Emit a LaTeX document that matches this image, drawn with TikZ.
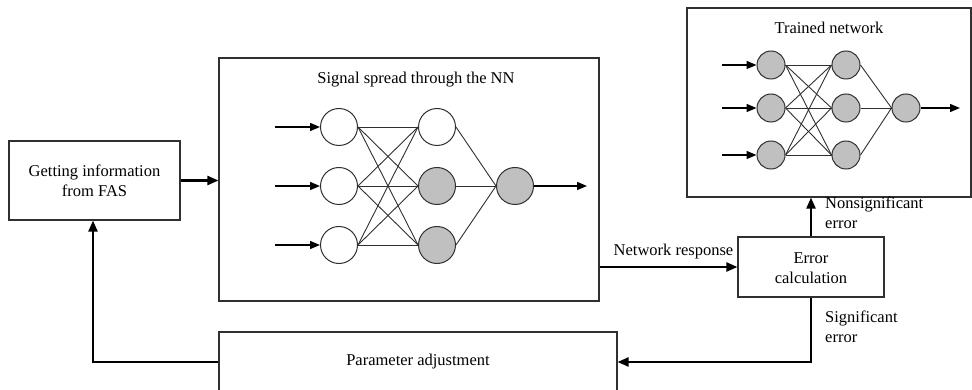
\documentclass[tikz,border=0pt]{standalone}
\usepackage{fontspec}
\setmainfont{Liberation Serif}
\usetikzlibrary{arrows.meta,calc}
\definecolor{nodegray}{HTML}{C0C0C0}
\definecolor{edge}{HTML}{303030}
\begin{document}
\begin{tikzpicture}[x=1pt,y=-1pt,
  txt/.style={font=\fontsize{16.5}{20}\selectfont,inner sep=0pt,align=center},
  box/.style={draw=edge,line width=1.1pt,inner sep=0pt},
  arr/.style={line width=2.2pt,-{Triangle[length=11pt,width=9pt]}},
  neu/.style={circle,draw=edge,line width=1pt,inner sep=0pt,minimum size=37pt,fill=white},
  neus/.style={circle,draw=edge,line width=1pt,inner sep=0pt,minimum size=28pt,fill=nodegray},
  gneu/.style={fill=nodegray},
  link/.style={line width=0.9pt,draw=edge},
  inarr/.style={line width=1.4pt,-{Triangle[length=10pt,width=8pt]}}]
\useasboundingbox (0,0) rectangle (972,390);
% boxes
\node[box,minimum width=171pt,minimum height=79pt] (get) at (94.5,180.5) {};
\node[txt] (gettxt) at (94.5,180.5) {Getting information\\from FAS};
\node[box,minimum width=380pt,minimum height=243pt] (nn) at (409,179.5) {};
\node[txt] (nntitle) at (416,80) {Signal spread through the NN};
\node[box,minimum width=284pt,minimum height=189pt] (tr) at (829,102.5) {};
\node[txt] (trtitle) at (829,28) {Trained network};
\node[box,minimum width=146pt,minimum height=60pt] (err) at (811,267) {};
\node[txt] (errtxt) at (811,268) {Error\\calculation};
\node[box,minimum width=398pt,minimum height=60pt] (pa) at (418,362) {};
\node[txt] (patxt) at (418,362) {Parameter adjustment};
% NN inside signal box
\foreach \i/\y in {1/127,2/186,3/245}{
  \node[neu] (a\i) at (339,\y) {};
  \coordinate (ain\i) at (275,\y);
  \draw[inarr] (ain\i) -- (a\i.west);
}
\node[neu] (b1) at (437,127) {};
\node[neu,gneu] (b2) at (437,186) {};
\node[neu,gneu] (b3) at (437,245) {};
\node[neu,gneu] (c1) at (515,186) {};
\foreach \i in {1,2,3}{\foreach \j in {1,2,3}{\draw[link] (a\i.east) -- (b\j.west);}
  \draw[link] (b\i.east) -- (c1.west);}
\coordinate (cout) at (587,186);
\draw[inarr] (c1.east) -- (cout);
% trained NN
\foreach \i/\y in {1/65,2/108,3/155}{
  \node[neus] (p\i) at (771,\y) {};
  \node[neus] (q\i) at (846,\y) {};
  \coordinate (pin\i) at (722,\y);
  \draw[inarr] (pin\i) -- (p\i.west);
}
\node[neus] (r1) at (906,108) {};
\foreach \i in {1,2,3}{\foreach \j in {1,2,3}{\draw[link] (p\i.east) -- (q\j.west);}
  \draw[link] (q\i.east) -- (r1.west);}
\coordinate (rout) at (960,108);
\draw[inarr] (r1.east) -- (rout);
% connectors
\draw[arr] (get.east) -- (get.east -| nn.west);
\draw[arr] (nn.east |- err.west) -- node[txt,above=7pt,pos=0.5,xshift=5pt] (nrlab) {Network response} (err.west);
\draw[arr] (err.north) -- (err.north |- tr.south);
\node[txt,align=left,anchor=north west] (nslab) at (825,197) {Nonsignificant\\error};
\draw[arr] (err.south) |- (pa.east);
\node[txt,align=left,anchor=north west] (slab) at (825,311) {Significant\\error};
\coordinate (fb) at (93,362);
\draw[arr] (pa.west) -- (fb) -- (fb |- get.south);
\end{tikzpicture}
\end{document}
